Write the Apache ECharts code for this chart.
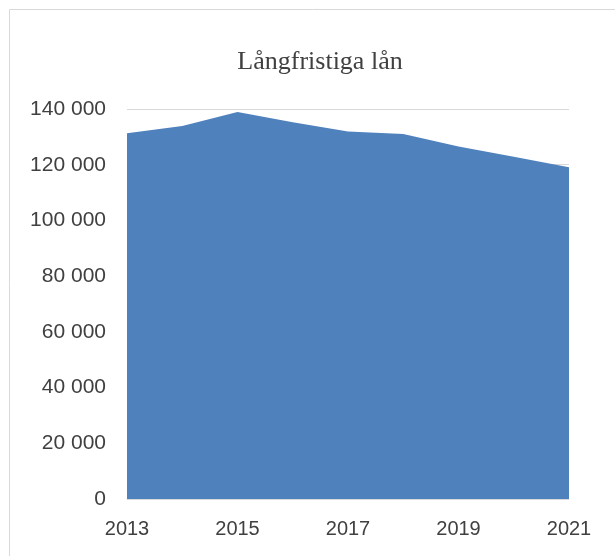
<!DOCTYPE html>
<html style="height: 100%">
<head>
    <meta charset="utf-8">
    <script src="https://cdn.jsdelivr.net/npm/echarts@6/dist/echarts.min.js"></script>
</head>
<body style="height: 100%; margin: 0; background: #fff">
<div id="main" style="width: 615px; height: 556px;"></div>
<script type="text/javascript">
    // år och långfristiga lån
    const years = ['2013', '2014', '2015', '2016', '2017', '2018', '2019', '2020', '2021'];
    const loans = [131300, 133900, 138900, 135200, 131900, 131000, 126500, 122900, 119100];
    const yTicks = [0, 20000, 40000, 60000, 80000, 100000, 120000, 140000];

    var chart = echarts.init(document.getElementById('main'));

    function fmt(v) {
        return String(v).replace(/\B(?=(\d{3})+(?!\d))/g, ' ');
    }

    var option = {
        animation: false,
        title: {
            text: 'Långfristiga lån',
            left: 315,
            top: 44,
            textAlign: 'center',
            textStyle: {
                fontFamily: 'Liberation Serif',
                fontSize: 26,
                fontWeight: 'normal',
                color: '#404040'
            }
        },
        graphic: [{
            type: 'rect',
            shape: { x: 9.5, y: 9.5, width: 700, height: 700 },
            style: { fill: 'none', stroke: '#d9d9d9', lineWidth: 1 },
            silent: true
        }],
        grid: {
            left: 127,
            right: 46,
            top: 109,
            bottom: 57
        },
        xAxis: {
            type: 'category',
            data: years,
            boundaryGap: false,
            z: 5,
            axisLine: { lineStyle: { color: '#d9d9d9', width: 1 } },
            axisTick: { show: false },
            axisLabel: {
                interval: 1,
                margin: 20,
                fontFamily: 'Liberation Sans',
                fontSize: 20,
                color: '#404040'
            }
        },
        yAxis: {
            type: 'value',
            min: yTicks[0],
            max: yTicks[yTicks.length - 1],
            interval: 20000,
            axisLine: { show: false },
            axisTick: { show: false },
            splitLine: { lineStyle: { color: '#d9d9d9', width: 1 } },
            axisLabel: {
                margin: 21,
                fontFamily: 'Liberation Sans',
                fontSize: 21,
                color: '#404040',
                formatter: fmt
            }
        },
        series: [{
            name: 'Långfristiga lån',
            type: 'line',
            data: loans,
            showSymbol: false,
            lineStyle: { width: 0 },
            areaStyle: { color: '#4f81bd', opacity: 1 },
            itemStyle: { color: '#4f81bd' }
        }]
    };

    chart.setOption(option);
</script>
</body>
</html>
